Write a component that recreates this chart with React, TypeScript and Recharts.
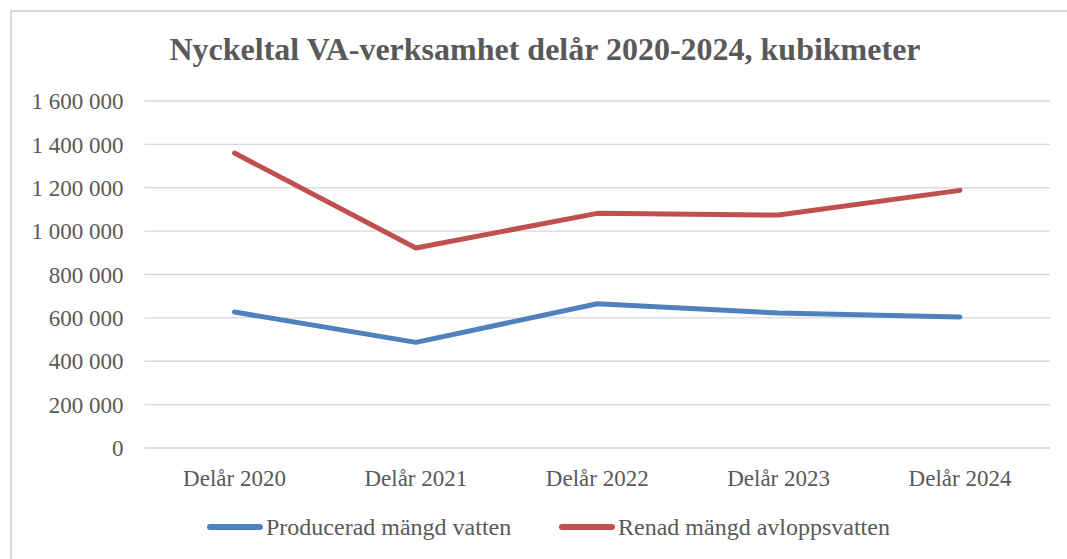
import React from "react";
import { LineChart, Line, XAxis, YAxis, CartesianGrid } from "recharts";

const categories = ["Delår 2020", "Delår 2021", "Delår 2022", "Delår 2023", "Delår 2024"];
const producerad = [627000, 487000, 665000, 622000, 604000];
const renad = [1360000, 922000, 1082000, 1074000, 1188000];
const yTicks = [0, 200000, 400000, 600000, 800000, 1000000, 1200000, 1400000, 1600000];

const seriesNames = ["Producerad mängd vatten", "Renad mängd avloppsvatten"];
const colors = ["#4F81BD", "#C0504D"];

const data = categories.map((c, i) => ({ name: c, p: producerad[i], r: renad[i] }));

const fmt = (v: number) => String(v).replace(/\B(?=(\d{3})+(?!\d))/g, " ");

const FONT = '"Liberation Serif", "Times New Roman", serif';

export default function App() {
  return (
    <div style={{ position: "absolute", left: 0, top: 0, width: 1067, height: 559, overflow: "hidden", background: "#fff", fontFamily: FONT }}>
      <div style={{ position: "absolute", left: 10, top: 10, width: 1100, height: 600, borderLeft: "2px solid #d9d9d9", borderTop: "2px solid #d9d9d9", boxSizing: "border-box" }} />
      <div style={{ position: "absolute", left: 0, top: 0 }}>
        <LineChart width={1067} height={559} data={data} margin={{ top: 101, right: 17, bottom: 71, left: 0 }}>
          <text x={545} y={60} textAnchor="middle" fill="#595959" style={{ fontFamily: FONT, fontSize: 32, fontWeight: "bold" }}>
            Nyckeltal VA-verksamhet delår 2020-2024, kubikmeter
          </text>
          <CartesianGrid vertical={false} stroke="#d9d9d9" strokeWidth={1.3} />
          <XAxis dataKey="name" padding={{ left: 90, right: 90 }} axisLine={{ stroke: "#d9d9d9", strokeWidth: 1.3 }} tickLine={false} tickSize={0} tickMargin={22} height={40}
            tick={{ fill: "#595959", fontSize: 23, fontFamily: FONT }} interval={0} />
          <YAxis domain={[0, 1600000]} ticks={yTicks} tickFormatter={fmt} axisLine={false} tickLine={false} tickSize={0} tickMargin={21} width={144.5}
            tick={{ fill: "#595959", fontSize: 23, fontFamily: FONT }} interval={0} />
          <Line dataKey="p" name={seriesNames[0]} stroke={colors[0]} strokeWidth={5} dot={false} strokeLinecap="round" strokeLinejoin="round" isAnimationActive={false} />
          <Line dataKey="r" name={seriesNames[1]} stroke={colors[1]} strokeWidth={5} dot={false} strokeLinecap="round" strokeLinejoin="round" isAnimationActive={false} />
        </LineChart>
      </div>
      {seriesNames.map((n, i) => (
        <div key={n} style={{ position: "absolute", left: i === 0 ? 207 : 559, top: 512, height: 30, display: "flex", alignItems: "center", fontSize: 24, color: "#595959", whiteSpace: "nowrap" }}>
          <div style={{ width: 56, height: 6, borderRadius: 3, background: colors[i], marginRight: 3 }} />
          <span>{n}</span>
        </div>
      ))}
    </div>
  );
}
